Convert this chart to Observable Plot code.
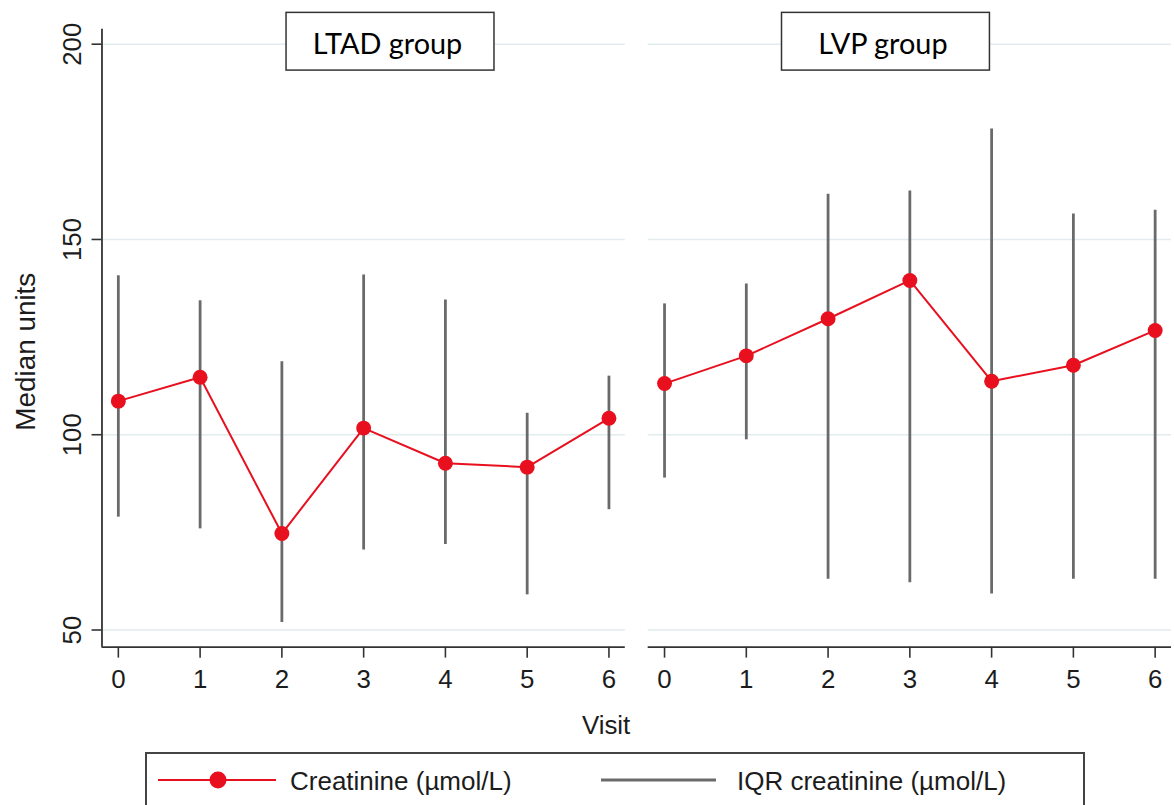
<!DOCTYPE html>
<html>
<head>
<meta charset="utf-8">
<script src="https://cdn.jsdelivr.net/npm/d3@7"></script>
<script src="https://cdn.jsdelivr.net/npm/@observablehq/plot@0.6"></script>
<style>
  html, body { margin: 0; padding: 0; background: #fff; overflow: hidden; }
  #wrap { position: relative; width: 1174px; height: 805px; overflow: hidden; }
  #wrap > svg { display: block; }
  #legend { position: absolute; left: 0; top: 752px; }
</style>
</head>
<body>
<div id="wrap"></div>
<script>
// Median creatinine per visit with interquartile range, by treatment group
const groups = ["LTAD group", "LVP group"];
const visits = [0, 1, 2, 3, 4, 5, 6];

const ltadMedian = [108.6, 114.7, 74.7, 101.7, 92.7, 91.7, 104.2];
const ltadQ1     = [78.9, 75.9, 51.9, 70.5, 71.9, 59.0, 80.8];
const ltadQ3     = [140.7, 134.3, 118.7, 140.9, 134.5, 105.5, 115.0];

const lvpMedian  = [113.1, 120.2, 129.7, 139.5, 113.7, 117.8, 126.7];
const lvpQ1      = [88.9, 98.7, 63.0, 62.1, 59.2, 63.0, 63.0];
const lvpQ3      = [133.5, 138.6, 161.6, 162.4, 178.3, 156.5, 157.5];

const yTicks = [50, 100, 150, 200];
const xDomain = [-0.2, 6.2];
const yDomain = [45.6, 203.8];

const seriesLabels = ["Creatinine (\u00b5mol/L)", "IQR creatinine (\u00b5mol/L)"];
const xTitle = "Visit";
const yTitle = "Median units";

const medians = [ltadMedian, lvpMedian];
const lows = [ltadQ1, lvpQ1];
const highs = [ltadQ3, lvpQ3];

const rows = groups.flatMap((group, gi) =>
  visits.map((visit, i) => ({
    group, visit,
    median: medians[gi][i],
    q1: lows[gi][i],
    q3: highs[gi][i]
  }))
);

const RED = "#e8101e";
const GRAY = "#6a6a6a";
const INK = "#1c1c1c";
const AXIS = "#333";
const intFormat = d3.format("d");

const chart = Plot.plot({
  width: 1180,
  height: 745,
  marginLeft: 101,
  marginRight: 2,
  marginTop: 29,
  marginBottom: 95,
  style: {
    fontFamily: "'Liberation Sans', Arial, Helvetica, sans-serif",
    fontSize: "26px",
    color: INK,
    background: "#fff",
    overflow: "visible"
  },
  fx: { domain: groups, axis: null, paddingInner: 0.041, paddingOuter: 0 },
  x: { domain: xDomain },
  y: { domain: yDomain },
  marks: [
    Plot.gridY({ ticks: yTicks, stroke: "#e2ebed", strokeOpacity: 1, strokeWidth: 1.6 }),
    // axis lines
    Plot.ruleY([yDomain[0]], { stroke: AXIS, strokeWidth: 1.8 }),
    Plot.ruleX([xDomain[0]], { fx: [groups[0]], stroke: AXIS, strokeWidth: 1.8 }),
    Plot.axisX({
      ticks: visits, tickFormat: intFormat, tickSize: 11, tickPadding: 12, label: null,
      stroke: AXIS, strokeWidth: 1.6, fontSize: 26, fill: INK
    }),
    Plot.axisY({
      ticks: yTicks, tickFormat: intFormat, tickSize: 10, tickPadding: 11, tickRotate: -90, label: null,
      stroke: AXIS, strokeWidth: 1.6, fontSize: 26, fill: INK
    }),
    // interquartile range
    Plot.ruleX(rows, { x: "visit", y1: "q1", y2: "q3", fx: "group", stroke: GRAY, strokeWidth: 2.8 }),
    // median trajectory
    Plot.line(rows, { x: "visit", y: "median", fx: "group", stroke: RED, strokeWidth: 2 }),
    Plot.dot(rows, { x: "visit", y: "median", fx: "group", fill: RED, r: 7.5 }),
    // axis titles
    Plot.text([xTitle], {
      fx: [groups[0]], text: d => d, frameAnchor: "bottom-right",
      textAnchor: "end", lineAnchor: "top", dx: 5, dy: 68.5, fontSize: 26, fill: INK
    }),
    Plot.text([yTitle], {
      fx: [groups[0]], text: d => d, frameAnchor: "left", rotate: -90,
      textAnchor: "middle", lineAnchor: "bottom", dx: -67.7, dy: 13.5, fontSize: 28, fill: INK
    }),
    // group labels (boxed below)
    Plot.text([groups[0]], {
      fx: d => d, text: d => d, frameAnchor: "top", lineAnchor: "bottom",
      dx: 24, dy: 25, fontSize: 29, fill: "#000",
      fontFamily: "Lato, 'Open Sans', sans-serif"
    }),
    Plot.text([groups[1]], {
      fx: d => d, text: d => d, frameAnchor: "top", lineAnchor: "bottom",
      dx: -27, dy: 25, fontSize: 29, fill: "#000",
      fontFamily: "Lato, 'Open Sans', sans-serif"
    })
  ]
});

const wrap = document.getElementById("wrap");
wrap.append(chart);

// white boxes with a thin border behind the group labels
const svgNS = "http://www.w3.org/2000/svg";
Array.from(chart.querySelectorAll("text"))
  .filter(t => groups.includes(t.textContent))
  .forEach(t => {
    const bb = t.getBBox();
    const w = 209;
    const cx = bb.x + bb.width / 2 + 2.5;
    const cy = bb.y + bb.height / 2 - 2;
    const rect = document.createElementNS(svgNS, "rect");
    rect.setAttribute("x", cx - w / 2);
    rect.setAttribute("y", cy - 29);
    rect.setAttribute("width", w);
    rect.setAttribute("height", 58);
    rect.setAttribute("fill", "#fff");
    rect.setAttribute("stroke", "#333");
    rect.setAttribute("stroke-width", 1.5);
    const tr = t.getAttribute("transform");
    if (tr) rect.setAttribute("transform", tr);
    t.parentNode.insertBefore(rect, t);
  });

// legend
const legend = d3.create("svg")
  .attr("id", "legend")
  .attr("width", 1174)
  .attr("height", 53)
  .style("font-family", "'Liberation Sans', Arial, Helvetica, sans-serif")
  .style("font-size", "26px");
legend.append("rect")
  .attr("x", 146).attr("y", 1).attr("width", 938).attr("height", 80)
  .attr("fill", "none").attr("stroke", "#444").attr("stroke-width", 2);
// median entry
legend.append("line")
  .attr("x1", 158).attr("x2", 276).attr("y1", 28).attr("y2", 28)
  .attr("stroke", RED).attr("stroke-width", 2);
legend.append("circle")
  .attr("cx", 218).attr("cy", 28).attr("r", 8.5).attr("fill", RED);
legend.append("text")
  .attr("x", 290).attr("y", 38).attr("fill", INK).text(seriesLabels[0]);
// IQR entry
legend.append("line")
  .attr("x1", 601).attr("x2", 716).attr("y1", 28).attr("y2", 28)
  .attr("stroke", GRAY).attr("stroke-width", 2.8);
legend.append("text")
  .attr("x", 737).attr("y", 38).attr("fill", INK).text(seriesLabels[1]);
wrap.append(legend.node());
</script>
</body>
</html>
